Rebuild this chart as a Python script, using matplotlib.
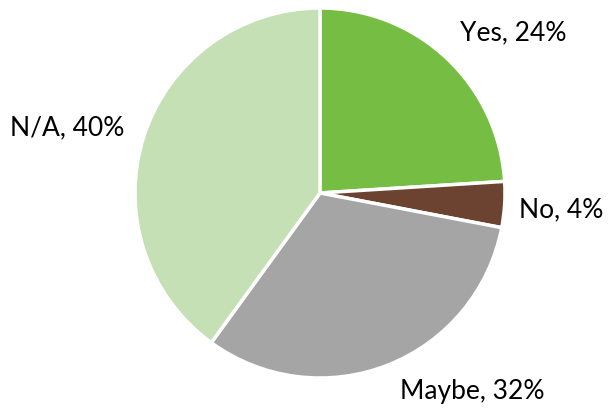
import matplotlib
matplotlib.use("Agg")
import matplotlib.pyplot as plt

# Survey answers and their shares
labels = ["Yes", "No", "Maybe", "N/A"]
shares = [24, 4, 32, 40]
colors = ["#76BD43", "#6B4330", "#A5A5A5", "#C5E0B4"]

# where each outside label sits (pixel space of the figure)
label_pos = [(513, 380), (561, 203), (472, 21), (67, 285)]

fig = plt.figure(figsize=(6.08, 4.13), dpi=100)
ax = fig.add_axes([0, 0, 1, 1])

ax.pie(shares, colors=colors, startangle=90, counterclock=False,
       center=(320, 220), radius=185,
       wedgeprops=dict(edgecolor="white", linewidth=2.5))

for name, val, (x, y) in zip(labels, shares, label_pos):
    ax.text(x, y, "{}, {}%".format(name, val), ha="center", va="center",
            fontsize=19, family="Lato", color="black")

ax.set_xlim(0, 608)
ax.set_ylim(0, 413)
ax.set_aspect("equal")
ax.axis("off")

fig.savefig("out.png", dpi=100)
